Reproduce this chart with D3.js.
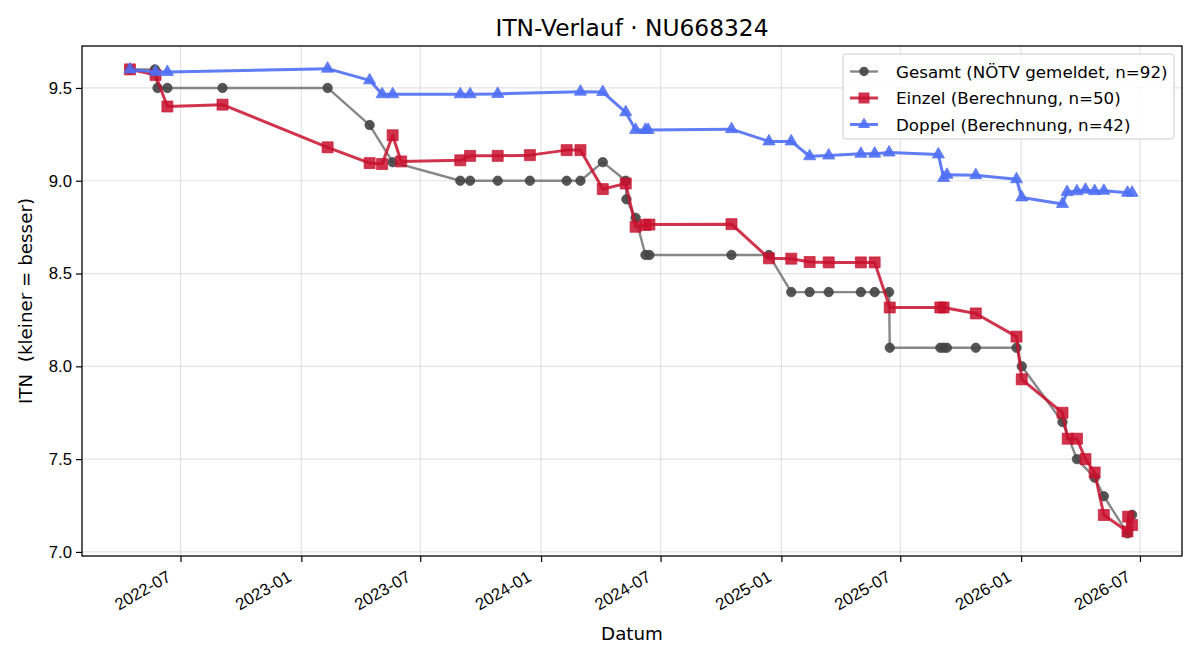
<!DOCTYPE html>
<html lang="de">
<head>
<meta charset="UTF-8">
<title>ITN-Verlauf</title>
<style>
  html, body { margin: 0; padding: 0; background: #fff; }
  svg { font-family: "DejaVu Sans", sans-serif; }
</style>
</head>
<body>
<script src="https://cdn.jsdelivr.net/npm/d3@7"></script>
<script>
// Gesamt (NÖTV gemeldet)
var gesamtDates = ["2022-04-15","2022-05-23","2022-05-27","2022-06-11","2022-09-03","2023-02-10","2023-04-15","2023-05-20",
  "2023-08-31","2023-09-15","2023-10-27","2023-12-15","2024-02-09","2024-03-01","2024-04-04","2024-05-09","2024-05-10",
  "2024-05-24","2024-06-08","2024-06-14","2024-10-17","2024-12-13","2025-01-16","2025-02-13","2025-03-14","2025-05-02",
  "2025-05-23","2025-06-14","2025-06-15","2025-08-31","2025-09-05","2025-09-10","2025-10-24","2025-12-25","2026-01-02",
  "2026-03-05","2026-03-27","2026-04-23","2026-05-07","2026-06-12","2026-06-19"];
var gesamtValues = [9.6,9.6,9.5,9.5,9.5,9.5,9.3,9.1,
  9.0,9.0,9.0,9.0,9.0,9.0,9.1,9.0,8.9,
  8.8,8.6,8.6,8.6,8.6,8.4,8.4,8.4,8.4,
  8.4,8.4,8.1,8.1,8.1,8.1,8.1,8.1,8.0,
  7.7,7.5,7.4,7.3,7.1,7.2];

// Einzel (Berechnung)
var einzelDates = ["2022-04-15","2022-05-24","2022-06-11","2022-09-03","2023-02-10","2023-04-15","2023-05-04","2023-05-20",
  "2023-06-02","2023-08-31","2023-09-15","2023-10-27","2023-12-15","2024-02-09","2024-03-01","2024-04-04","2024-05-09",
  "2024-05-24","2024-06-08","2024-06-14","2024-10-17","2024-12-13","2025-01-16","2025-02-13","2025-03-14","2025-05-02",
  "2025-05-23","2025-06-15","2025-08-31","2025-09-05","2025-10-24","2025-12-25","2026-01-02","2026-03-05","2026-03-13",
  "2026-03-27","2026-04-09","2026-04-23","2026-05-07","2026-06-12","2026-06-13","2026-06-19"];
var einzelValues = [9.6,9.57,9.4,9.41,9.18,9.095,9.09,9.245,
  9.104,9.11,9.134,9.134,9.138,9.165,9.165,8.955,8.985,
  8.752,8.762,8.764,8.766,8.582,8.58,8.562,8.56,8.56,
  8.56,8.317,8.317,8.317,8.285,8.16,7.93,7.75,7.61,
  7.61,7.5,7.428,7.199,7.11,7.19,7.145];

// Doppel (Berechnung)
var doppelDates = ["2022-04-15","2022-05-24","2022-06-11","2023-02-10","2023-04-15","2023-05-04","2023-05-20","2023-08-31",
  "2023-09-15","2023-10-27","2024-03-01","2024-04-04","2024-05-09","2024-05-24","2024-06-08","2024-06-12","2024-10-17",
  "2024-12-13","2025-01-16","2025-02-13","2025-03-14","2025-05-02","2025-05-23","2025-06-14","2025-08-28","2025-09-05",
  "2025-09-10","2025-10-24","2025-12-25","2026-01-02","2026-03-05","2026-03-12","2026-03-27","2026-04-09","2026-04-23",
  "2026-05-07","2026-06-12","2026-06-19"];
var doppelValues = [9.6,9.586,9.586,9.604,9.541,9.466,9.466,9.466,
  9.466,9.468,9.48,9.478,9.369,9.274,9.274,9.274,9.278,
  9.212,9.212,9.132,9.136,9.145,9.146,9.152,9.142,9.015,
  9.032,9.03,9.008,8.91,8.875,8.939,8.943,8.952,8.944,
  8.946,8.935,8.935];

var yTicks = [7.0, 7.5, 8.0, 8.5, 9.0, 9.5];
var xTicks = ["2022-07-01","2023-01-01","2023-07-01","2024-01-01","2024-07-01","2025-01-01","2025-07-01","2026-01-01","2026-07-01"];
var legendLabels = ["Gesamt (NÖTV gemeldet, n=92)", "Einzel (Berechnung, n=50)", "Doppel (Berechnung, n=42)"];

var W = 1200, H = 660;
var m = { left: 82, right: 18, top: 46, bottom: 104 };
var fs = "16.7px";
var parse = d3.timeParse("%Y-%m-%d");

var svg = d3.select("body").append("svg").attr("width", W).attr("height", H);

var x = d3.scaleTime()
  .domain([parse("2022-02-01"), parse("2026-09-03")])
  .range([m.left, W - m.right]);
var y = d3.scaleLinear()
  .domain([6.978, 9.726])
  .range([H - m.bottom, m.top]);

// gitter
svg.append("g").selectAll("line").data(xTicks).join("line")
  .attr("x1", d => x(parse(d))).attr("x2", d => x(parse(d)))
  .attr("y1", m.top).attr("y2", H - m.bottom)
  .attr("stroke", "#b0b0b0").attr("stroke-opacity", 0.35).attr("stroke-width", 1.2);
svg.append("g").selectAll("line").data(yTicks).join("line")
  .attr("x1", m.left).attr("x2", W - m.right)
  .attr("y1", d => y(d)).attr("y2", d => y(d))
  .attr("stroke", "#b0b0b0").attr("stroke-opacity", 0.35).attr("stroke-width", 1.2);

// achsen
var xAxis = svg.append("g").attr("transform", "translate(0," + (H - m.bottom) + ")")
  .call(d3.axisBottom(x).tickValues(xTicks.map(parse)).tickFormat(d3.timeFormat("%Y-%m")).tickSize(6).tickSizeOuter(0));
xAxis.selectAll("text")
  .attr("y", 0).attr("dy", null)
  .attr("transform", "translate(-9,24) rotate(-30)")
  .attr("text-anchor", "end")
  .style("font-size", fs).attr("fill", "#000");

var yAxis = svg.append("g").attr("transform", "translate(" + m.left + ",0)")
  .call(d3.axisLeft(y).tickValues(yTicks).tickFormat(d3.format(".1f")).tickSize(6).tickSizeOuter(0));
yAxis.selectAll("text").style("font-size", fs).attr("fill", "#000").attr("x", -10);
svg.selectAll(".domain").remove();
svg.selectAll(".tick line").attr("stroke", "#000").attr("stroke-width", 1.2);

svg.append("rect")
  .attr("x", m.left).attr("y", m.top)
  .attr("width", W - m.left - m.right).attr("height", H - m.top - m.bottom)
  .attr("fill", "none").attr("stroke", "#000").attr("stroke-width", 1.3);

// serien
var series = [
  { dates: gesamtDates, values: gesamtValues, line: "#7a7a7a", mark: "#444", lw: 2.4, sym: d3.symbolCircle, size: 70, op: 0.9 },
  { dates: einzelDates, values: einzelValues, line: "#c8102e", mark: "#c8102e", lw: 3, sym: d3.symbolSquare, size: 121, op: 0.85 },
  { dates: doppelDates, values: doppelValues, line: "#4f6ff5", mark: "#4f6ff5", lw: 3, sym: d3.symbolTriangle, size: 64, op: 0.9 }
];

var line = d3.line().x(d => x(d[0])).y(d => y(d[1]));

series.forEach(function (s) {
  var pts = s.dates.map((d, i) => [parse(d), s.values[i]]);
  svg.append("path").datum(pts)
    .attr("d", line).attr("fill", "none")
    .attr("stroke", s.line).attr("stroke-width", s.lw).attr("stroke-linejoin", "round")
    .attr("stroke-opacity", s.op);
  svg.append("g").selectAll("path").data(pts).join("path")
    .attr("d", d3.symbol().type(s.sym).size(s.size))
    .attr("transform", d => "translate(" + x(d[0]) + "," + y(d[1]) + ")")
    .attr("fill", s.mark).attr("fill-opacity", s.op)
    .attr("stroke", s.mark).attr("stroke-opacity", s.op).attr("stroke-width", 0.8);
});

// titel + beschriftung
svg.append("text").attr("x", (m.left + W - m.right) / 2).attr("y", 36)
  .attr("text-anchor", "middle").style("font-size", "23.3px").text("ITN-Verlauf · NU668324");
svg.append("text").attr("x", (m.left + W - m.right) / 2).attr("y", 640)
  .attr("text-anchor", "middle").style("font-size", "18.3px").text("Datum");
svg.append("text")
  .attr("transform", "translate(32," + ((m.top + H - m.bottom) / 2) + ") rotate(-90)")
  .attr("text-anchor", "middle").style("font-size", "18.3px").style("white-space", "pre")
  .text("ITN  (kleiner = besser)");

// legende
var lg = svg.append("g").attr("transform", "translate(843,54)");
lg.append("rect").attr("width", 331).attr("height", 85).attr("rx", 3)
  .attr("fill", "#fff").attr("fill-opacity", 0.85).attr("stroke", "#cccccc");
legendLabels.forEach(function (t, i) {
  var s = series[i], ly = 17.5 + i * 26.5;
  lg.append("line").attr("x1", 7).attr("x2", 35).attr("y1", ly).attr("y2", ly)
    .attr("stroke", s.line).attr("stroke-width", s.lw).attr("stroke-opacity", s.op);
  lg.append("path").attr("d", d3.symbol().type(s.sym).size(s.size))
    .attr("transform", "translate(21," + ly + ")")
    .attr("fill", s.mark).attr("fill-opacity", s.op);
  lg.append("text").attr("x", 53).attr("y", ly + 6).style("font-size", fs).text(t);
});
</script>
</body>
</html>
